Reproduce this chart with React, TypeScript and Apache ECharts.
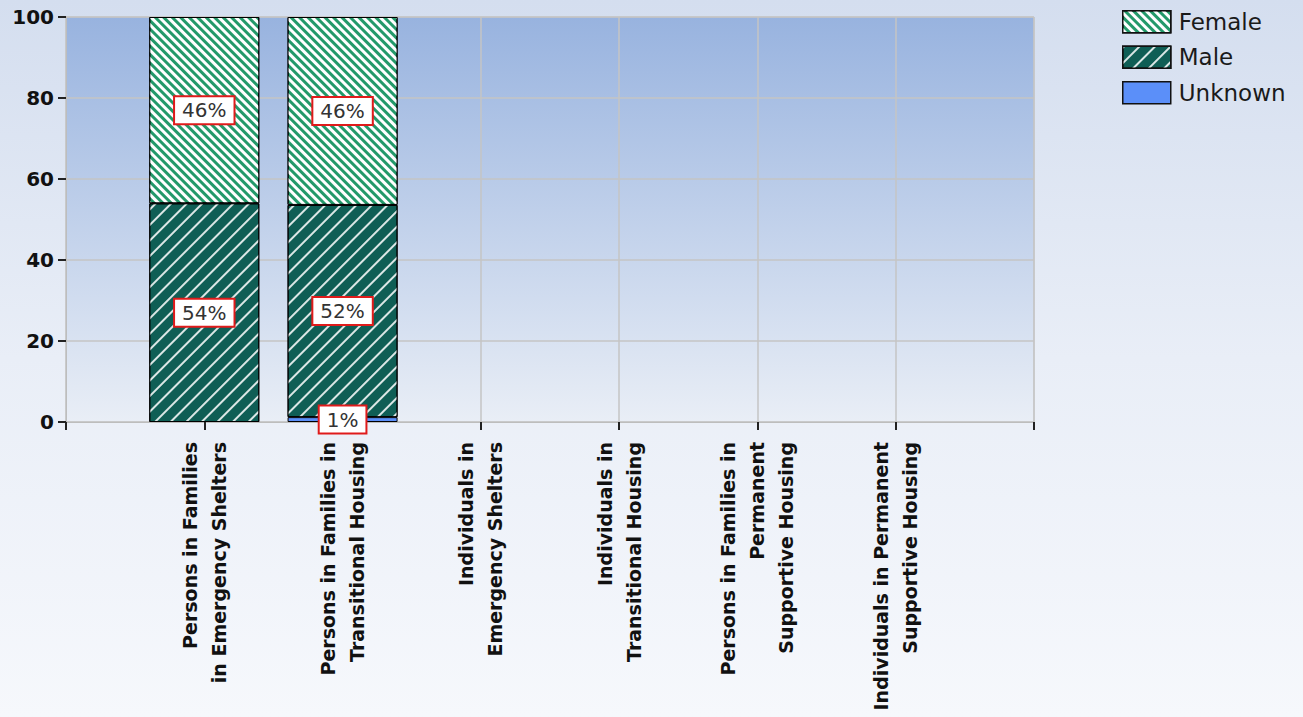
import React, { useEffect, useRef } from "react";
import * as echarts from "echarts";

const categories = [
  "Persons in Families\nin Emergency Shelters",
  "Persons in Families in\nTransitional Housing",
  "Individuals in\nEmergency Shelters",
  "Individuals in\nTransitional Housing",
  "Persons in Families in\nPermanent\nSupportive Housing",
  "Individuals in Permanent\nSupportive Housing",
];
const female: (number | null)[] = [46, 46.4, null, null, null, null];
const male: (number | null)[] = [54, 52.4, null, null, null, null];
const unknown: (number | null)[] = [null, 1.2, null, null, null, null];
const yTicks = [0, 20, 40, 60, 80, 100];

const pad = (arr: (number | null)[]) => [null, ...arr, null];

export default function App() {
  const ref = useRef<HTMLDivElement>(null);
  useEffect(() => {
    if (!ref.current) return;
    const chart = echarts.init(ref.current, null, { renderer: "svg" });
    const labelStyle = {
      show: true,
      position: "inside",
      formatter: (p: any) => `${Math.round(p.value)}%`,
      fontFamily: "DejaVu Sans",
      fontSize: 20,
      color: "#333",
      backgroundColor: "#ffffff",
      borderColor: "#e01b1b",
      borderWidth: 2,
      padding: [3, 7],
    };
    const mk = (name: string, data: (number | null)[], color: string, decal: any) => ({
      name,
      type: "bar",
      stack: "total",
      barWidth: 110,
      data: pad(data),
      itemStyle: { color, borderColor: "#000", borderWidth: 1, decal },
      label: labelStyle,
    });
    const option: any = {
      animation: false,
      aria: { enabled: false },
      grid: {
        left: 66,
        right: 269,
        top: 17,
        bottom: 295,
        outerBoundsMode: "none",
        containLabel: false,
        show: true,
        backgroundColor: new echarts.graphic.LinearGradient(0, 0, 0, 1, [
          { offset: 0, color: "#98b3df" },
          { offset: 1, color: "#e9eef6" },
        ]),
        borderColor: "#c4c4c4",
        borderWidth: 1,
      },
      legend: {
        left: 1117,
        top: 5,
        orient: "vertical",
        icon: "rect",
        itemWidth: 48,
        itemHeight: 22,
        itemGap: 12,
        data: ["Female", "Male", "Unknown"],
        itemStyle: { borderColor: "#111", borderWidth: 1.5 },
        textStyle: { fontFamily: "DejaVu Sans", fontSize: 23, color: "#1a1a1a", padding: [0, 0, 0, 3] },
      },
      xAxis: {
        type: "category",
        boundaryGap: false,
        data: ["", ...categories, ""],
        axisLine: { show: true, lineStyle: { color: "#bdbdbd", width: 1 } },
        axisTick: { show: true, length: 8, lineStyle: { color: "#222", width: 2 } },
        splitLine: { show: true, lineStyle: { color: "#c4c4c4", width: 1.5 } },
        axisLabel: {
          interval: 0,
          rotate: 90,
          margin: 20,
          fontFamily: "DejaVu Sans",
          fontWeight: "bold",
          fontSize: 19,
          lineHeight: 29,
          color: "#111",
        },
      },
      yAxis: {
        type: "value",
        min: yTicks[0],
        max: yTicks[yTicks.length - 1],
        interval: 20,
        axisLine: { show: true, lineStyle: { color: "#bdbdbd", width: 1 } },
        axisTick: { show: true, length: 8, lineStyle: { color: "#222", width: 2 } },
        splitLine: { show: true, lineStyle: { color: "#c4c4c4", width: 1.5 } },
        axisLabel: {
          margin: 12,
          fontFamily: "DejaVu Sans",
          fontWeight: "bold",
          fontSize: 20,
          color: "#111",
        },
      },
      series: [
        mk("Unknown", unknown, "#5b8ff9", null),
        mk("Male", male, "#0f5e55", {
          symbol: "rect",
          symbolSize: 1,
          color: "rgba(255,255,255,0.85)",
          dashArrayX: [1, 0],
          dashArrayY: [2, 9],
          rotation: -Math.PI / 4,
        }),
        mk("Female", female, "#23996a", {
          symbol: "rect",
          symbolSize: 1,
          color: "#ffffff",
          dashArrayX: [1, 0],
          dashArrayY: [2.5, 2.5],
          rotation: Math.PI / 4,
        }),
      ],
    };
    chart.setOption(option);
    return () => chart.dispose();
  }, []);
  return (
    <div
      style={{
        position: "fixed",
        left: 0,
        top: 0,
        width: 1303,
        height: 717,
        background: "linear-gradient(180deg, #d4deef 0%, #e9eef7 50%, #f6f8fc 100%)",
      }}
    >
      <div ref={ref} style={{ width: 1303, height: 717 }} />
    </div>
  );
}
